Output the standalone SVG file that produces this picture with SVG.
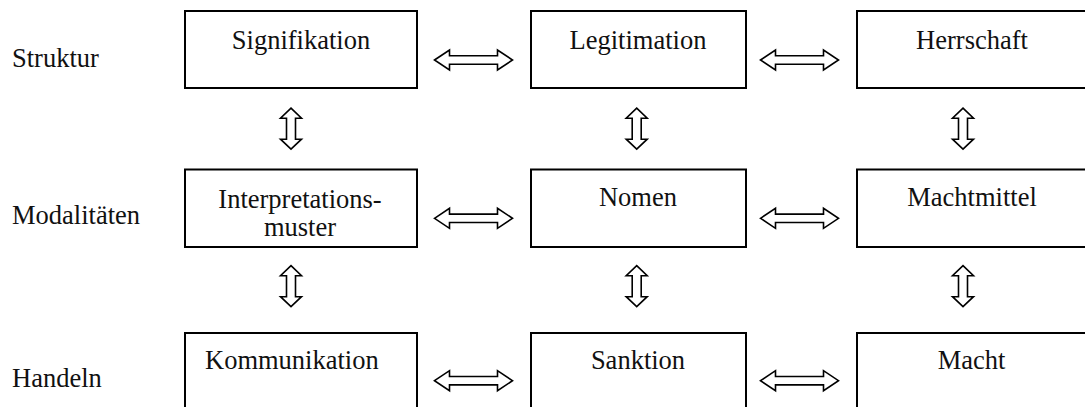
<svg xmlns="http://www.w3.org/2000/svg" xmlns:xlink="http://www.w3.org/1999/xlink" width="1085" height="407" viewBox="0 0 1085 407">
<style>
  .box { fill: #ffffff; stroke: #000000; stroke-width: 2; }
  .t { font-family: "Liberation Serif", "Times New Roman", serif; font-size: 26.5px; fill: #111111; }
  .c { text-anchor: middle; }
  .arr { fill: #ffffff; stroke: #000000; stroke-width: 1.6; stroke-linejoin: miter; }
</style>
<defs>
  <path id="harrow" class="arr" d="M-39,0 L-24,-10 L-24,-4.2 L24,-4.2 L24,-10 L39,0 L24,10 L24,4.2 L-24,4.2 L-24,10 Z"/>
  <path id="varrow" class="arr" d="M0,-20.5 L10.5,-10.5 L4.5,-10.5 L4.5,10.5 L10.5,10.5 L0,20.5 L-10.5,10.5 L-4.5,10.5 L-4.5,-10.5 L-10.5,-10.5 Z"/>
</defs>
<rect width="1085" height="407" fill="#ffffff"/>

<g id="labels">
  <text class="t" x="12" y="66.7">Struktur</text>
  <text class="t" x="12" y="224.3">Modalitäten</text>
  <text class="t" x="12" y="386.7">Handeln</text>
</g>

<g id="node-signifikation">
  <rect class="box" x="185" y="11" width="232" height="77"/>
  <text class="t c" x="301" y="49">Signifikation</text>
</g>
<g id="node-legitimation">
  <rect class="box" x="531" y="11" width="215" height="77"/>
  <text class="t c" x="638" y="49">Legitimation</text>
</g>
<g id="node-herrschaft">
  <rect class="box" x="857" y="11" width="231" height="77"/>
  <text class="t c" x="972" y="49">Herrschaft</text>
</g>

<g id="node-interpretationsmuster">
  <rect class="box" x="185" y="169.5" width="232" height="77.5"/>
  <text class="t c" x="300" y="207.5">Interpretations-</text>
  <text class="t c" x="300" y="236">muster</text>
</g>
<g id="node-nomen">
  <rect class="box" x="531" y="169.5" width="215" height="77.5"/>
  <text class="t c" x="638" y="206">Nomen</text>
</g>
<g id="node-machtmittel">
  <rect class="box" x="857" y="169.5" width="231" height="77.5"/>
  <text class="t c" x="972" y="206">Machtmittel</text>
</g>

<g id="node-kommunikation">
  <rect class="box" x="185" y="333" width="232" height="80"/>
  <text class="t" x="205" y="368.5">Kommunikation</text>
</g>
<g id="node-sanktion">
  <rect class="box" x="531" y="333" width="215" height="80"/>
  <text class="t c" x="638" y="368.5">Sanktion</text>
</g>
<g id="node-macht">
  <rect class="box" x="857" y="333" width="231" height="80"/>
  <text class="t c" x="971.5" y="368.5">Macht</text>
</g>

<g id="connectors">
  <use xlink:href="#harrow" x="473.5" y="60"/>
  <use xlink:href="#harrow" x="799.5" y="60"/>
  <use xlink:href="#harrow" x="473.5" y="218.3"/>
  <use xlink:href="#harrow" x="799.5" y="218.3"/>
  <use xlink:href="#harrow" x="473.5" y="380.7"/>
  <use xlink:href="#harrow" x="799.5" y="380.7"/>

  <use xlink:href="#varrow" x="291" y="128.7"/>
  <use xlink:href="#varrow" x="636.7" y="128.7"/>
  <use xlink:href="#varrow" x="963" y="128.7"/>
  <use xlink:href="#varrow" x="291" y="286.2"/>
  <use xlink:href="#varrow" x="636.7" y="286.2"/>
  <use xlink:href="#varrow" x="963" y="286.2"/>
</g>
</svg>
